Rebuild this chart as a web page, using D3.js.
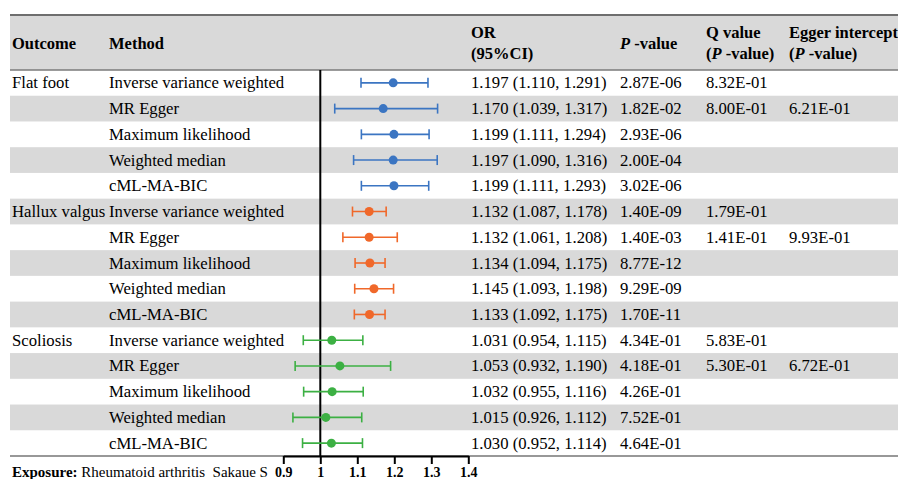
<!DOCTYPE html>
<html>
<head>
<meta charset="utf-8">
<script src="https://cdn.jsdelivr.net/npm/d3@7"></script>
<style>
  body { margin: 0; background: #fff; }
  text { font-family: "Liberation Serif", "Times New Roman", serif; }
</style>
</head>
<body>
<svg id="chart"></svg>
<script>
// table values
let outcomes = ["Flat foot", "Hallux valgus", "Scoliosis"];
let methods = ["Inverse variance weighted", "MR Egger", "Maximum likelihood", "Weighted median", "cML-MA-BIC"];
let orValues = [1.197, 1.170, 1.199, 1.197, 1.199,
                1.132, 1.132, 1.134, 1.145, 1.133,
                1.031, 1.053, 1.032, 1.015, 1.030];
let ciLow = [1.110, 1.039, 1.111, 1.090, 1.111,
             1.087, 1.061, 1.094, 1.093, 1.092,
             0.954, 0.932, 0.955, 0.926, 0.952];
let ciHigh = [1.291, 1.317, 1.294, 1.316, 1.293,
              1.178, 1.208, 1.175, 1.198, 1.175,
              1.115, 1.190, 1.116, 1.112, 1.114];
let pValues = ["2.87E-06", "1.82E-02", "2.93E-06", "2.00E-04", "3.02E-06",
               "1.40E-09", "1.40E-03", "8.77E-12", "9.29E-09", "1.70E-11",
               "4.34E-01", "4.18E-01", "4.26E-01", "7.52E-01", "4.64E-01"];
let qValues = ["8.32E-01", "8.00E-01", "", "", "",
               "1.79E-01", "1.41E-01", "", "", "",
               "5.83E-01", "5.30E-01", "", "", ""];
let eggerValues = ["", "6.21E-01", "", "", "",
                   "", "9.93E-01", "", "", "",
                   "", "6.72E-01", "", "", ""];
let colors = ["#3b75c2", "#f0682a", "#3cb043"];
let tickValues = [0.9, 1, 1.1, 1.2, 1.3, 1.4];

let rows = orValues.map((v, i) => ({
    outcome: i % 5 == 0 ? outcomes[Math.floor(i / 5)] : "",
    method: methods[i % 5],
    or: v, lo: ciLow[i], hi: ciHigh[i],
    p: pValues[i], q: qValues[i], egger: eggerValues[i],
    color: colors[Math.floor(i / 5)]
}));

let width = 898;
let height = 479;
let left = 10;
let headTop = 15;
let headBottom = 70;
let tableBottom = 456;

let chart = d3.select("#chart").attr("width", width).attr("height", height);

let xscale = d3.scaleLinear().domain([0.9, 1.4]).range([283.3, 468.3]);

let yscale = d3.scaleBand()
    .domain(d3.range(rows.length))
    .range([headBottom, tableBottom]);

// header band
chart.append("rect")
    .attr("x", left).attr("y", headTop)
    .attr("width", width - left).attr("height", headBottom - headTop)
    .style("fill", "#d9d9d9");

// shaded rows
chart.selectAll("rect.band").data(rows.filter((d, i) => i % 2 == 1))
    .enter().append("rect")
    .attr("class", "band")
    .attr("x", left)
    .attr("y", d => yscale(rows.indexOf(d)))
    .attr("width", width - left)
    .attr("height", yscale.bandwidth())
    .style("fill", "#d9d9d9");

chart.append("line")
    .attr("x1", left).attr("x2", width).attr("y1", headTop).attr("y2", headTop)
    .style("stroke", "#6e6e6e").style("stroke-width", 2);
chart.append("line")
    .attr("x1", left).attr("x2", width).attr("y1", headBottom).attr("y2", headBottom)
    .style("stroke", "#7a7a7a").style("stroke-width", 1.5);
chart.append("line")
    .attr("x1", left).attr("x2", width).attr("y1", tableBottom).attr("y2", tableBottom)
    .style("stroke", "#333").style("stroke-width", 1.2);

// header text
let head = chart.append("g").style("font-weight", "bold").style("font-size", "16.5px");
head.append("text").attr("x", 12).attr("y", 49).text("Outcome");
head.append("text").attr("x", 109).attr("y", 49).text("Method");
head.append("text").attr("x", 471).attr("y", 38).text("OR");
head.append("text").attr("x", 471).attr("y", 59).text("(95%CI)");
let ph = head.append("text").attr("x", 620).attr("y", 49);
ph.append("tspan").style("font-style", "italic").text("P");
ph.append("tspan").text(" -value");
head.append("text").attr("x", 706).attr("y", 38).text("Q value");
let qh = head.append("text").attr("x", 706).attr("y", 59);
qh.append("tspan").text("(");
qh.append("tspan").style("font-style", "italic").text("P");
qh.append("tspan").text(" -value)");
head.append("text").attr("x", 789).attr("y", 38).text("Egger intercept");
let eh = head.append("text").attr("x", 789).attr("y", 59);
eh.append("tspan").text("(");
eh.append("tspan").style("font-style", "italic").text("P");
eh.append("tspan").text(" -value)");

// body text
let body = chart.append("g").style("font-size", "16.7px");
let cols = [
    {x: 12, f: d => d.outcome},
    {x: 109, f: d => d.method},
    {x: 471, f: d => d3.format(".3f")(d.or) + " (" + d3.format(".3f")(d.lo) + ", " + d3.format(".3f")(d.hi) + ")"},
    {x: 620, f: d => d.p},
    {x: 706, f: d => d.q},
    {x: 789, f: d => d.egger}
];
cols.forEach(c => {
    body.selectAll(null).data(rows).enter().append("text")
        .attr("x", c.x)
        .attr("y", (d, i) => yscale(i) + yscale.bandwidth() / 2 + 5.5)
        .text(c.f);
});

// reference line at OR = 1
chart.append("line")
    .attr("x1", xscale(1)).attr("x2", xscale(1))
    .attr("y1", headBottom).attr("y2", tableBottom)
    .style("stroke", "black").style("stroke-width", 2);

// error bars
let bars = chart.selectAll("g.bar").data(rows).enter().append("g")
    .attr("class", "bar")
    .attr("transform", (d, i) => "translate(0," + (yscale(i) + yscale.bandwidth() / 2) + ")")
    .style("stroke", d => d.color)
    .style("fill", d => d.color);
bars.append("line")
    .attr("x1", d => xscale(d.lo)).attr("x2", d => xscale(d.hi))
    .style("stroke-width", 1.6);
bars.append("line")
    .attr("x1", d => xscale(d.lo)).attr("x2", d => xscale(d.lo))
    .attr("y1", -5).attr("y2", 5).style("stroke-width", 1.6);
bars.append("line")
    .attr("x1", d => xscale(d.hi)).attr("x2", d => xscale(d.hi))
    .attr("y1", -5).attr("y2", 5).style("stroke-width", 1.6);
bars.append("circle")
    .attr("cx", d => xscale(d.or)).attr("r", 4.5)
    .style("stroke", "none");

// x axis
let axis = chart.append("g")
    .attr("transform", "translate(0," + tableBottom + ")")
    .call(d3.axisBottom(xscale).tickValues(tickValues).tickSize(8).tickSizeOuter(0).tickFormat(d3.format("")));
axis.select(".domain").style("stroke", "black").style("stroke-width", 2);
axis.selectAll(".tick line").style("stroke", "black").style("stroke-width", 2);
axis.selectAll(".tick text")
    .attr("y", 11)
    .style("font-family", "'Liberation Serif', serif")
    .style("font-size", "14px").style("font-weight", "bold").style("fill", "black");

let expo = chart.append("text").attr("x", 12).attr("y", 476.5).style("font-size", "15px");
expo.append("tspan").style("font-weight", "bold").text("Exposure:");
expo.append("tspan").text(" Rheumatoid arthritis\u00a0 Sakaue S");
</script>
</body>
</html>
